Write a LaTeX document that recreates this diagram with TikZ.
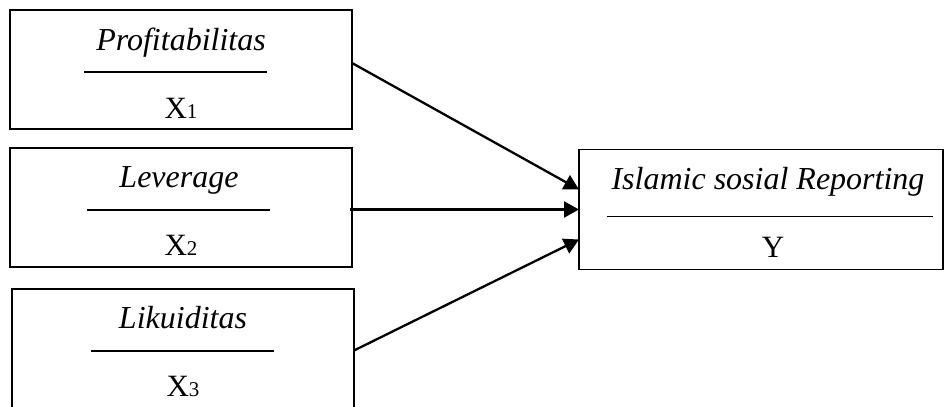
\documentclass[tikz,border=0pt]{standalone}
\usepackage{fontspec}
\setmainfont{Liberation Serif}
\usetikzlibrary{positioning,arrows.meta}

\begin{document}
\begin{tikzpicture}[
      x=1pt, y=1pt,
      varbox/.style={
        draw=black, line width=1.2pt, fill=white, outer sep=0pt, inner sep=0pt,
        minimum width=342pt, minimum height=119pt
      },
      vlabel/.style={font=\fontsize{32}{36}\selectfont\itshape, anchor=base, inner sep=0pt},
      vsym/.style={font=\fontsize{31}{36}\selectfont, anchor=base, inner sep=0pt},
      hrule/.style={line width=1.5pt},
      link/.style={->, line width=2.3pt},
      >={Triangle[length=15pt,width=16pt]}
      ]

  \useasboundingbox (0,0) rectangle (946,407);

  \node[varbox] (prof) at (181,337.5) {};
  \node[varbox, below = 19pt of prof] (lev) {};
  \node[varbox, below = 22pt of lev, xshift=2pt] (liq) {};
  \node[varbox, minimum width=364pt, minimum height=120pt, right = 227pt of lev, yshift=-2pt] (isr) {};

  % texts in the boxes
  \node[vlabel] (prof-txt) at ([yshift=-41pt]prof.north) {Profitabilitas};
  \node[vsym] (prof-sym) at ([yshift=10.5pt]prof.south) {X{\fontsize{21}{24}\selectfont 1}};
  \draw[hrule] ([xshift=-97pt,yshift=-62pt]prof.north) -- ++(183pt,0);

  \node[vlabel] (lev-txt) at ([xshift=-2pt,yshift=-40pt]lev.north) {Leverage};
  \node[vsym] (lev-sym) at ([yshift=11pt]lev.south) {X{\fontsize{21}{24}\selectfont 2}};
  \draw[hrule] ([xshift=-94pt,yshift=-62pt]lev.north) -- ++(183pt,0);

  \node[vlabel] (liq-txt) at ([yshift=-40pt]liq.north) {Likuiditas};
  \node[vsym] (liq-sym) at ([yshift=11pt]liq.south) {X{\fontsize{21}{24}\selectfont 3}};
  \draw[hrule] ([xshift=-92pt,yshift=-62pt]liq.north) -- ++(183pt,0);

  \node[vlabel] (isr-txt) at ([xshift=7pt,yshift=-40pt]isr.north) {Islamic sosial Reporting};
  \node[vsym] (isr-sym) at ([xshift=12pt,yshift=11.5pt]isr.south) {Y};
  \draw[hrule] ([xshift=-154pt,yshift=-67pt]isr.north) -- ++(326pt,0);

  % Connect the boxes
  \draw[link] ([yshift=6.5pt]prof.east) -- ([yshift=20pt]isr.west);
  \draw[link] ([xshift=-2pt]lev.east |- isr.west) -- (isr.west);
  \draw[link] ([yshift=-2pt]liq.east) -- ([yshift=-30pt]isr.west);

\end{tikzpicture}
\end{document}
